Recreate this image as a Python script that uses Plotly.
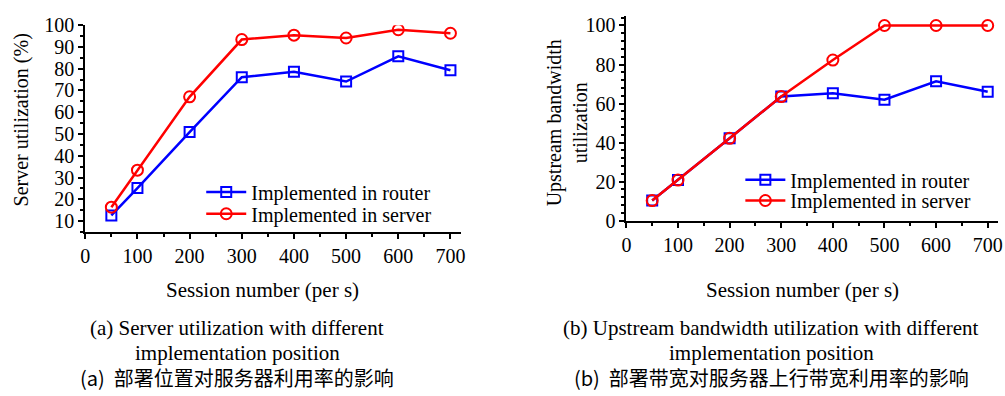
import plotly.graph_objects as go

# Session rates (per second)
sessions = [50, 100, 200, 300, 400, 500, 600, 700]

# (a) server utilization (%)
server_util_router = [12.6, 25.2, 50.9, 76.1, 78.6, 74.1, 85.7, 79.3]
server_util_server = [16.4, 33.4, 67.1, 93.4, 95.4, 94.1, 97.9, 96.3]

# (b) upstream bandwidth utilization
upstream_router = [10.3, 20.8, 42.2, 63.6, 65.3, 62.0, 71.4, 66.1]
upstream_server = [10.3, 20.8, 42.2, 63.6, 82.3, 100.0, 100.0, 100.0]

x_ticks = [0, 100, 200, 300, 400, 500, 600, 700]
left_y_ticks = [10, 20, 30, 40, 50, 60, 70, 80, 90, 100]
right_y_ticks = [0, 20, 40, 60, 80, 100]

name_router = "Implemented in router"
name_server = "Implemented in server"

SERIF = "Liberation Serif, Times New Roman, serif"
CJK = "Noto Sans CJK SC"
W, H = 1005, 396

BLUE = "#0000ff"
RED = "#ff0000"


def px_x(p):
    return p / W


def px_y(p):
    return 1 - p / H


fig = go.Figure()

router_style = dict(
    mode="lines+markers",
    line=dict(color=BLUE, width=2.5),
    marker=dict(symbol="square-open", size=10, color=BLUE, line=dict(width=2, color=BLUE)),
)
server_style = dict(
    mode="lines+markers",
    line=dict(color=RED, width=2.5),
    marker=dict(symbol="circle-open", size=11, color=RED, line=dict(width=2, color=RED)),
)

# each legend entry gets its own legend box so rows can sit close together
fig.add_trace(go.Scatter(x=sessions, y=server_util_router, name=name_router,
                         xaxis="x", yaxis="y", legend="legend", **router_style))
fig.add_trace(go.Scatter(x=sessions, y=server_util_server, name=name_server,
                         xaxis="x", yaxis="y", legend="legend2", **server_style))
fig.add_trace(go.Scatter(x=sessions, y=upstream_router, name=name_router,
                         xaxis="x2", yaxis="y2", legend="legend3", **router_style))
fig.add_trace(go.Scatter(x=sessions, y=upstream_server, name=name_server,
                         xaxis="x2", yaxis="y2", legend="legend4", **server_style))

axis_common = dict(
    showline=True, linecolor="black", linewidth=2,
    ticks="outside", ticklen=5, tickwidth=2, tickcolor="black",
    showgrid=False, zeroline=False,
    tickfont=dict(family=SERIF, size=20, color="black"),
    minor=dict(ticks="outside", ticklen=3, tickwidth=2, tickcolor="black", showgrid=False),
)

legend_common = dict(
    xanchor="left", yanchor="top", bgcolor="rgba(0,0,0,0)", itemwidth=40,
    font=dict(family=SERIF, size=20, color="black"),
)

fig.update_layout(
    width=W, height=H,
    margin=dict(l=0, r=0, t=0, b=0),
    paper_bgcolor="white", plot_bgcolor="white",
    showlegend=True,
    xaxis=dict(domain=[px_x(81), px_x(460)], range=[0, 720], anchor="y",
               tickvals=x_ticks, minor_dtick=50, **axis_common),
    yaxis=dict(domain=[px_y(234), px_y(15)], range=[5, 100], anchor="x",
               tickvals=left_y_ticks, minor_dtick=5, **axis_common),
    xaxis2=dict(domain=[px_x(627), px_x(1002)], range=[0, 720], anchor="y2",
                tickvals=x_ticks, minor_dtick=50, **axis_common),
    yaxis2=dict(domain=[px_y(222), px_y(5)], range=[0, 105], anchor="x2",
                tickvals=right_y_ticks, minor_dtick=4, **axis_common),
    legend=dict(x=px_x(198), y=px_y(171), **legend_common),
    legend2=dict(x=px_x(198), y=px_y(194), **legend_common),
    legend3=dict(x=px_x(742), y=px_y(158), **legend_common),
    legend4=dict(x=px_x(742), y=px_y(180), **legend_common),
)

# Axis titles and figure captions
texts = [
    ("Server utilization (%)", 17, 115, SERIF, 20, -90),
    ("Upstream bandwidth<br>utilization", 568, 118, SERIF, 20, -90),
    ("Session number (per s)", 260, 295, SERIF, 21, 0),
    ("Session number (per s)", 805, 295, SERIF, 21, 0),
    ("(a) Server utilization with different", 234, 336, SERIF, 21, 0),
    ("implementation position", 235, 362, SERIF, 21, 0),
    ("(a)  部署位置对服务器利用率的影响", 234, 388, CJK, 20, 0),
    ("(b) Upstream bandwidth utilization with different", 773, 336, SERIF, 21, 0),
    ("implementation position", 773, 362, SERIF, 21, 0),
    ("(b)  部署带宽对服务器上行带宽利用率的影响", 773, 388, CJK, 20, 0),
]
for text, cx, cy, fam, size, ang in texts:
    fig.add_annotation(
        text=text, x=px_x(cx), y=px_y(cy), xref="paper", yref="paper",
        xanchor="center", yanchor="middle", showarrow=False, textangle=ang,
        font=dict(family=fam, size=size, color="black"),
    )

fig.write_html("out.html")
